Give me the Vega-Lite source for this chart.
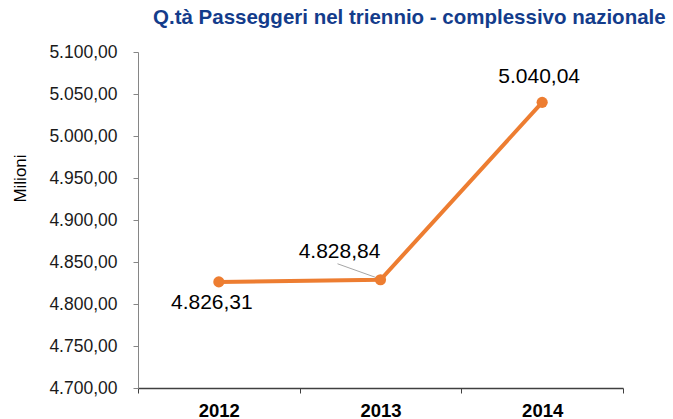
{
  "$schema": "https://vega.github.io/schema/vega-lite/v6.json",
  "autosize": {"type": "none"},
  "width": 485,
  "height": 336,
  "padding": {"left": 138, "top": 52, "right": 50, "bottom": 31},
  "background": "white",
  "config": {
    "locale": {"number": {"decimal": ",", "thousands": ".", "grouping": [3], "currency": ["€", ""]}},
    "view": {"stroke": null},
    "font": "Liberation Sans"
  },
  "title": {
    "text": "Q.tà Passeggeri nel triennio - complessivo nazionale",
    "anchor": "start",
    "frame": "group",
    "dx": 15,
    "offset": 15,
    "font": "Liberation Sans",
    "fontSize": 20.5,
    "fontWeight": "bold",
    "color": "#133C8B"
  },
  "data": {"values": [
    {"year": "2012", "value": 4826.31},
    {"year": "2013", "value": 4828.84},
    {"year": "2014", "value": 5040.04}
  ]},
  "encoding": {
    "x": {
      "field": "year", "type": "ordinal", "title": null,
      "scale": {"type": "band", "paddingInner": 0, "paddingOuter": 0},
      "axis": {
        "labelAngle": 0, "labelFont": "Liberation Sans", "labelFontSize": 18.5, "labelFontWeight": "bold",
        "labelColor": "#000000", "labelPadding": 8, "tickBand": "extent", "tickSize": 5,
        "domainColor": "#404040", "tickColor": "#404040", "domainWidth": 1.3, "grid": false
      }
    },
    "y": {
      "field": "value", "type": "quantitative",
      "scale": {"domain": [4700, 5100], "zero": false, "nice": false},
      "axis": {
        "title": "Milioni", "titleFont": "Liberation Sans", "titleFontSize": 17, "titleFontWeight": "normal",
        "titleColor": "#000000", "titleX": -118, "titleY": 126, "titleAngle": -90,
        "titleAlign": "center", "titleBaseline": "middle",
        "values": [4700, 4750, 4800, 4850, 4900, 4950, 5000, 5050, 5100],
        "format": ",.2f", "labelFont": "Liberation Sans", "labelFontSize": 17.5, "labelColor": "#1A1A1A",
        "labelPadding": 16, "tickSize": 5, "domainColor": "#868686", "tickColor": "#868686", "grid": false
      }
    }
  },
  "layer": [
    {
      "transform": [{"filter": "datum.year == '2013'"}],
      "mark": {"type": "rule", "color": "#A6A6A6", "strokeWidth": 1, "xOffset": -43, "yOffset": -16, "x2Offset": -1, "y2Offset": -1},
      "encoding": {"x2": {"field": "year"}, "y2": {"field": "value"}}
    },
    {"mark": {"type": "line", "color": "#ED7D31", "strokeWidth": 4}},
    {"mark": {"type": "point", "filled": true, "color": "#ED7D31", "size": 125, "opacity": 1}},
    {
      "transform": [{"filter": "datum.year == '2012'"}],
      "mark": {"type": "text", "fontSize": 21, "font": "Liberation Sans", "color": "#000000", "dx": -7, "dy": 21},
      "encoding": {"text": {"field": "value", "type": "quantitative", "format": ",.2f"}}
    },
    {
      "transform": [{"filter": "datum.year == '2013'"}],
      "mark": {"type": "text", "fontSize": 21, "font": "Liberation Sans", "color": "#000000", "dx": -41, "dy": -28},
      "encoding": {"text": {"field": "value", "type": "quantitative", "format": ",.2f"}}
    },
    {
      "transform": [{"filter": "datum.year == '2014'"}],
      "mark": {"type": "text", "fontSize": 21, "font": "Liberation Sans", "color": "#000000", "dx": -3, "dy": -25},
      "encoding": {"text": {"field": "value", "type": "quantitative", "format": ",.2f"}}
    }
  ]
}
